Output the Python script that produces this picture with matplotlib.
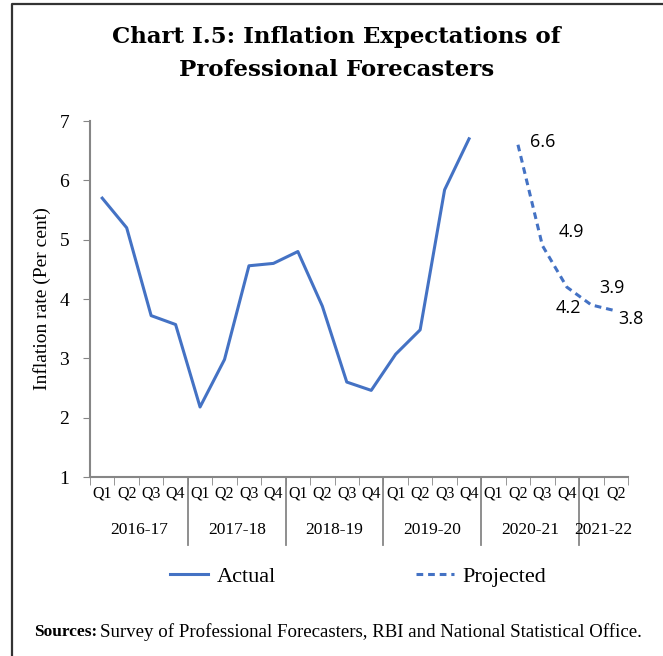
import numpy as np
import matplotlib.pyplot as plt
from matplotlib.lines import Line2D

#quarters and financial years
quarters = ['Q1', 'Q2', 'Q3', 'Q4'] * 5 + ['Q1', 'Q2']
years = ['2016-17', '2017-18', '2018-19', '2019-20', '2020-21', '2021-22']

#inflation, actual (2016-17 Q1 to 2019-20 Q4)
actual = [5.7, 5.2, 3.72, 3.57, 2.18, 2.98, 4.56, 4.6,
          4.8, 3.88, 2.6, 2.46, 3.07, 3.48, 5.84, 6.7]
#projections (2020-21 Q2 to 2021-22 Q2)
projected = [6.6, 4.9, 4.2, 3.9, 3.8]
proj_labels = ['6.6', '4.9', '4.2', '3.9', '3.8']

blue = '#4472C4'
grey = '#868686'
serif = 'Liberation Serif'

fig = plt.figure(figsize=(6.63, 6.56), dpi=100)
ax = fig.add_axes([90/663, 1-477/656, 538/663, 356/656])

x_act = np.arange(len(actual))
x_proj = np.arange(17, 17 + len(projected))
ax.plot(x_act, actual, color=blue, lw=2.2)
ax.plot(x_proj, projected, color=blue, lw=2.2, ls=(0, (2.2, 1.6)))

#data labels (offset in points, alignment)
offs = [(9, 2, 'left'), (12, 10, 'left'), (1, -15, 'center'), (6, 12, 'left'), (2, -6, 'left')]
for xp, yp, t, o in zip(x_proj, projected, proj_labels, offs):
    ax.annotate(t, (xp, yp), xytext=o[:2], textcoords='offset points',
                ha=o[2], va='center', fontsize=13, family='Open Sans')

ax.set_xlim(-0.5, len(quarters) - 0.5)
ax.set_ylim(1, 7)
ax.set_yticks(range(1, 8))
ax.set_yticklabels([str(v) for v in range(1, 8)], fontsize=14, family=serif)
ax.set_ylabel('Inflation rate (Per cent)', fontsize=14, family=serif, labelpad=6)

ax.set_xticks(np.arange(len(quarters)))
ax.set_xticklabels(quarters, fontsize=11.5, family=serif)
ax.set_xticks(np.arange(len(quarters) + 1) - 0.5, minor=True)
ax.tick_params(axis='x', which='major', length=0, pad=6)
ax.tick_params(axis='x', which='minor', length=6, color=grey, direction='out')
ax.tick_params(axis='y', length=5, color=grey, pad=10)

for s in ['top', 'right']:
    ax.spines[s].set_visible(False)
for s in ['left', 'bottom']:
    ax.spines[s].set_color(grey)
    ax.spines[s].set_linewidth(1.5)

#year separators and labels below the axis
trans = ax.get_xaxis_transform()
for i, yr in enumerate(years):
    x0 = 4*i - 0.5
    if i > 0:
        ax.plot([x0, x0], [0, -0.19], color=grey, lw=1.3, transform=trans, clip_on=False)
    n = 4 if i < 5 else 2
    ax.text(x0 + n/2, -0.15, yr, transform=trans, ha='center', va='center',
            fontsize=12.5, family=serif)

fig.text(0.508, 1-37/656, 'Chart I.5: Inflation Expectations of',
         ha='center', va='center', fontsize=16.5, fontweight='bold', family='DejaVu Serif')
fig.text(0.508, 1-70/656, 'Professional Forecasters',
         ha='center', va='center', fontsize=16.5, fontweight='bold', family='DejaVu Serif')

h = [Line2D([], [], color=blue, lw=2.2),
     Line2D([], [], color=blue, lw=2.2, ls=(0, (2.2, 1.6)))]
fig.legend(h, ['Actual', 'Projected'], loc='center', bbox_to_anchor=(0.54, 1-577/656),
           ncol=2, frameon=False, columnspacing=6.3, handlelength=1.7, handletextpad=0.4,
           prop={'family': serif, 'size': 16})

fig.text(34/663, 1-632/656, 'Sources:', fontsize=12.5, va='center',
         family=serif, fontweight='bold')
fig.text(100/663, 1-632/656, 'Survey of Professional Forecasters, RBI and National Statistical Office.',
         fontsize=13.6, va='center', family=serif)

#outer frame
fig.add_artist(Line2D([12/663, 12/663, 1], [0, 1-4/656, 1-4/656],
                      transform=fig.transFigure, color='#333333', lw=1.6))

fig.savefig('out.png', dpi=100)
